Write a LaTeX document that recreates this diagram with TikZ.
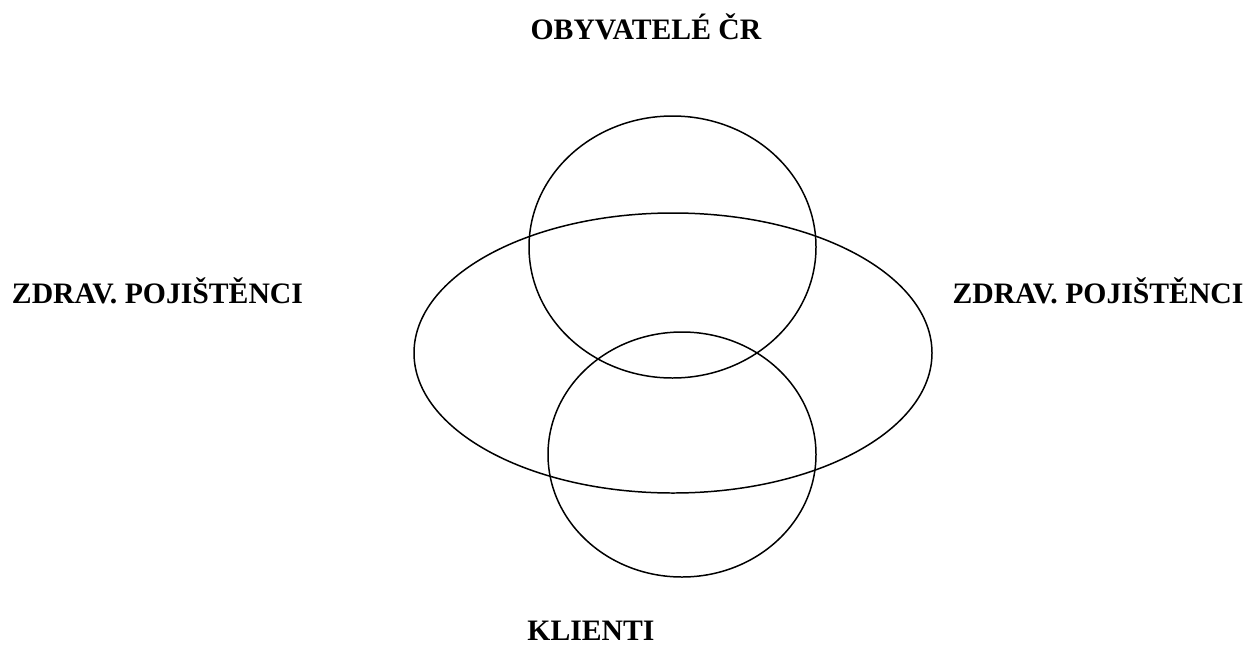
\documentclass[tikz,border=0pt]{standalone}
\usepackage{fontspec}
\setmainfont{Liberation Serif}
\usepackage{tikz}
\usetikzlibrary{positioning,calc}

\begin{document}
\begin{tikzpicture}[
      lbl/.style={anchor=base, inner sep=0pt,
        font=\fontsize{16.9}{19}\selectfont\bfseries},
      set/.style={draw=black, line width=0.85pt}
    ]
      \useasboundingbox (0,0) rectangle (24.94,-12.9);
      % sets
      \draw[set] (13.45,-4.94) ellipse [x radius=2.87cm, y radius=2.62cm];
      \draw[set] (13.46,-7.06) ellipse [x radius=5.18cm, y radius=2.80cm];
      \draw[set] (13.64,-9.09) ellipse [x radius=2.68cm, y radius=2.45cm];
      % labels
      \node[lbl] (obyv) at (12.92,-0.78) {OBYVATELÉ ČR};
      \node[lbl] (pojL) at (3.15,-6.06) {ZDRAV. POJIŠTĚNCI};
      \node[lbl] (pojR) at (21.96,-6.06) {ZDRAV. POJIŠTĚNCI};
      \node[lbl] (klienti) at (11.82,-12.80) {KLIENTI};
    \end{tikzpicture}
\end{document}
